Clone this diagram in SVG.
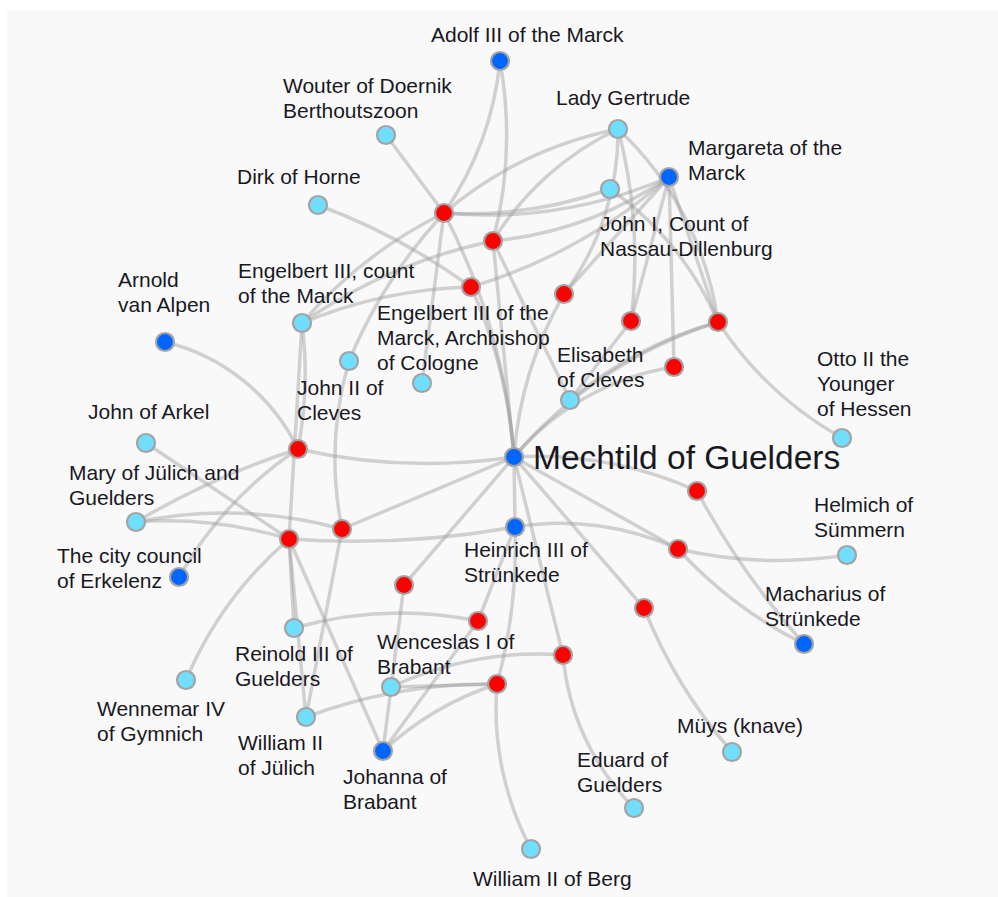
<svg xmlns="http://www.w3.org/2000/svg" width="998" height="897" viewBox="0 0 998 897">
<style>
.bg{fill:#f9f9f9}
.e path{fill:none;stroke:#999;stroke-opacity:0.42;stroke-width:3.5}
.n circle{stroke:#a3a3a3;stroke-width:2.2}
.r circle{fill:#ff0000}
.b circle{fill:#0066ff}
.c circle{fill:#70dfff}
text{font-family:"Liberation Sans",Arial,sans-serif;font-size:21px;fill:#18181f}
.big{font-size:33.5px}
</style>
<rect width="998" height="897" fill="#ffffff"/>
<rect class="bg" x="7" y="10" width="991" height="887"/>
<g class="e" id="edges">
<path d="M500 61 A324 324 0 0 1 444 213"/>
<path d="M500 61 A420 420 0 0 1 493 241"/>
<path d="M386 135 L444 213"/>
<path d="M444 213 A386 386 0 0 1 618 129"/>
<path d="M610 189 A420 420 0 0 1 444 213"/>
<path d="M669 177 A456 456 0 0 1 444 213"/>
<path d="M302 323 A450 450 0 0 1 444 213"/>
<path d="M349 361 A500 500 0 0 1 444 213"/>
<path d="M422 383 L444 213"/>
<path d="M444 213 A635 635 0 0 1 514 457"/>
<path d="M669 177 A374 374 0 0 1 493 241"/>
<path d="M493 241 A294 294 0 0 1 618 129"/>
<path d="M302 323 A520 520 0 0 1 493 241"/>
<path d="M493 241 L514 457"/>
<path d="M493 241 L570 400"/>
<path d="M318 205 A631 631 0 0 1 471 287"/>
<path d="M302 323 A468 468 0 0 1 471 287"/>
<path d="M669 177 A532 532 0 0 1 471 287"/>
<path d="M471 287 A500 500 0 0 1 514 457"/>
<path d="M618 129 A270 270 0 0 1 564 294"/>
<path d="M669 177 L564 294"/>
<path d="M514 457 A380 380 0 0 1 564 294"/>
<path d="M618 129 A512 512 0 0 1 631 321"/>
<path d="M669 177 L631 321"/>
<path d="M570 400 L631 321"/>
<path d="M610 189 A314 314 0 0 1 718 322"/>
<path d="M669 177 L718 322"/>
<path d="M618 129 A326 326 0 0 1 718 322"/>
<path d="M842 438 A361 361 0 0 1 718 322"/>
<path d="M514 457 A441 441 0 0 1 718 322"/>
<path d="M570 400 A400 400 0 0 1 718 322"/>
<path d="M669 177 L674 367"/>
<path d="M514 457 A260 260 0 0 1 674 367"/>
<path d="M165 342 A200 200 0 0 1 298 449"/>
<path d="M136 522 A800 800 0 0 1 298 449"/>
<path d="M302 323 A397 397 0 0 1 298 449"/>
<path d="M514 457 A583 583 0 0 1 298 449"/>
<path d="M179 577 A383 383 0 0 1 298 449"/>
<path d="M146 443 L289 539"/>
<path d="M136 522 A423 423 0 0 1 289 539"/>
<path d="M136 522 A442 442 0 0 1 342 529"/>
<path d="M302 323 L289 539"/>
<path d="M294 628 L289 539"/>
<path d="M306 717 L289 539"/>
<path d="M383 751 L289 539"/>
<path d="M186 680 A383 383 0 0 1 289 539"/>
<path d="M515 527 A912 912 0 0 1 289 539"/>
<path d="M342 529 A353 353 0 0 1 349 361"/>
<path d="M306 717 L342 529"/>
<path d="M514 457 L342 529"/>
<path d="M514 457 L515 527"/>
<path d="M515 527 A280 280 0 0 1 678 549"/>
<path d="M515 527 L478 621"/>
<path d="M515 527 A520 520 0 0 1 497 684"/>
<path d="M514 457 A393 393 0 0 1 697 491"/>
<path d="M514 457 L678 549"/>
<path d="M514 457 L404 585"/>
<path d="M514 457 L644 608"/>
<path d="M514 457 L563 655"/>
<path d="M804 644 A795 795 0 0 1 697 491"/>
<path d="M847 555 A446 446 0 0 1 678 549"/>
<path d="M804 644 A430 430 0 0 1 678 549"/>
<path d="M732 752 A500 500 0 0 1 644 608"/>
<path d="M383 751 L404 585"/>
<path d="M294 628 A385 385 0 0 1 478 621"/>
<path d="M383 751 L478 621"/>
<path d="M391 687 A348 348 0 0 1 563 655"/>
<path d="M634 808 A246 246 0 0 1 563 655"/>
<path d="M391 687 L497 684"/>
<path d="M306 717 A523 523 0 0 1 497 684"/>
<path d="M531 849 A300 300 0 0 1 497 684"/>
<path d="M383 751 A311 311 0 0 1 497 684"/>
</g>
<g id="red-nodes">
<g id="r1" class="n r"><circle cx="444" cy="213" r="9"/></g>
<g id="r2" class="n r"><circle cx="493" cy="241" r="9"/></g>
<g id="r3" class="n r"><circle cx="471" cy="287" r="9"/></g>
<g id="r4" class="n r"><circle cx="564" cy="294" r="9"/></g>
<g id="r5" class="n r"><circle cx="631" cy="321" r="9"/></g>
<g id="r6" class="n r"><circle cx="718" cy="322" r="9"/></g>
<g id="r7" class="n r"><circle cx="674" cy="367" r="9"/></g>
<g id="r8" class="n r"><circle cx="298" cy="449" r="9"/></g>
<g id="r9" class="n r"><circle cx="289" cy="539" r="9"/></g>
<g id="r10" class="n r"><circle cx="342" cy="529" r="9"/></g>
<g id="r11" class="n r"><circle cx="697" cy="491" r="9"/></g>
<g id="r12" class="n r"><circle cx="678" cy="549" r="9"/></g>
<g id="r13" class="n r"><circle cx="404" cy="585" r="9"/></g>
<g id="r14" class="n r"><circle cx="478" cy="621" r="9"/></g>
<g id="r15" class="n r"><circle cx="644" cy="608" r="9"/></g>
<g id="r16" class="n r"><circle cx="563" cy="655" r="9"/></g>
<g id="r17" class="n r"><circle cx="497" cy="684" r="9"/></g>
</g>
<g id="adolf" class="n b"><circle cx="500" cy="61" r="9"/><text x="431" y="42">Adolf III of the Marck</text></g>
<g id="wouter" class="n c"><circle cx="386" cy="135" r="9"/><text x="283" y="93">Wouter of Doernik<tspan x="283" y="118">Berthoutszoon</tspan></text></g>
<g id="gertrude" class="n c"><circle cx="618" cy="129" r="9"/><text x="556" y="105">Lady Gertrude</text></g>
<g id="margareta" class="n b"><circle cx="669" cy="177" r="9"/><text x="688" y="155">Margareta of the<tspan x="688" y="180">Marck</tspan></text></g>
<g id="john1" class="n c"><circle cx="610" cy="189" r="9"/><text x="600" y="231">John I, Count of<tspan x="600" y="256">Nassau-Dillenburg</tspan></text></g>
<g id="dirk" class="n c"><circle cx="318" cy="205" r="9"/><text x="237" y="184">Dirk of Horne</text></g>
<g id="engelbert-count" class="n c"><circle cx="302" cy="323" r="9"/><text x="238" y="278">Engelbert III, count<tspan x="238" y="303">of the Marck</tspan></text></g>
<g id="john2" class="n c"><circle cx="349" cy="361" r="9"/><text x="297" y="395">John II of<tspan x="297" y="420">Cleves</tspan></text></g>
<g id="engelbert-arch" class="n c"><circle cx="422" cy="383" r="9"/><text x="377" y="320">Engelbert III of the<tspan x="377" y="345">Marck, Archbishop</tspan><tspan x="377" y="370">of Cologne</tspan></text></g>
<g id="elisabeth" class="n c"><circle cx="570" cy="400" r="9"/><text x="557" y="362">Elisabeth<tspan x="557" y="387">of Cleves</tspan></text></g>
<g id="arnold" class="n b"><circle cx="165" cy="342" r="9"/><text x="118" y="287">Arnold<tspan x="118" y="312">van Alpen</tspan></text></g>
<g id="otto" class="n c"><circle cx="842" cy="438" r="9"/><text x="817" y="366">Otto II the<tspan x="817" y="391">Younger</tspan><tspan x="817" y="416">of Hessen</tspan></text></g>
<g id="arkel" class="n c"><circle cx="146" cy="443" r="9"/><text x="88" y="419">John of Arkel</text></g>
<g id="mechtild" class="n b"><circle cx="514" cy="457" r="9"/><text class="big" x="533" y="469">Mechtild of Guelders</text></g>
<g id="mary" class="n c"><circle cx="136" cy="522" r="9"/><text x="69" y="480">Mary of Jülich and<tspan x="69" y="505">Guelders</tspan></text></g>
<g id="heinrich" class="n b"><circle cx="515" cy="527" r="9"/><text x="464" y="557">Heinrich III of<tspan x="464" y="582">Strünkede</tspan></text></g>
<g id="helmich" class="n c"><circle cx="847" cy="555" r="9"/><text x="814" y="512">Helmich of<tspan x="814" y="537">Sümmern</tspan></text></g>
<g id="erkelenz" class="n b"><circle cx="179" cy="577" r="9"/><text x="57" y="563">The city council<tspan x="57" y="588">of Erkelenz</tspan></text></g>
<g id="macharius" class="n b"><circle cx="804" cy="644" r="9"/><text x="765" y="601">Macharius of<tspan x="765" y="626">Strünkede</tspan></text></g>
<g id="reinold" class="n c"><circle cx="294" cy="628" r="9"/><text x="235" y="661">Reinold III of<tspan x="235" y="686">Guelders</tspan></text></g>
<g id="wenceslas" class="n c"><circle cx="391" cy="687" r="9"/><text x="377" y="649">Wenceslas I of<tspan x="377" y="674">Brabant</tspan></text></g>
<g id="wennemar" class="n c"><circle cx="186" cy="680" r="9"/><text x="97" y="716">Wennemar IV<tspan x="97" y="741">of Gymnich</tspan></text></g>
<g id="william-juelich" class="n c"><circle cx="306" cy="717" r="9"/><text x="238" y="750">William II<tspan x="238" y="775">of Jülich</tspan></text></g>
<g id="johanna" class="n b"><circle cx="383" cy="751" r="9"/><text x="343" y="784">Johanna of<tspan x="343" y="809">Brabant</tspan></text></g>
<g id="muys" class="n c"><circle cx="732" cy="752" r="9"/><text x="677" y="733">Müys (knave)</text></g>
<g id="eduard" class="n c"><circle cx="634" cy="808" r="9"/><text x="577" y="767">Eduard of<tspan x="577" y="792">Guelders</tspan></text></g>
<g id="william-berg" class="n c"><circle cx="531" cy="849" r="9"/><text x="473" y="886">William II of Berg</text></g>
</svg>
